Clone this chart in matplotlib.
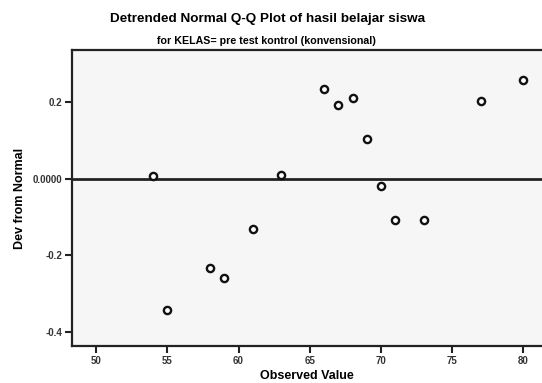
import matplotlib
matplotlib.use("Agg")
import matplotlib.pyplot as plt

observed = [54, 55, 58, 59, 61, 63, 66, 67, 68, 69, 70, 71, 73, 77, 80]
dev_from_normal = [0.007, -0.343, -0.233, -0.260, -0.130, 0.010, 0.235, 0.193,
                   0.211, 0.105, -0.019, -0.107, -0.107, 0.204, 0.259]

x_ticks = [50, 55, 60, 65, 70, 75, 80]
y_ticks = [0.2, 0.0, -0.2, -0.4]
y_tick_labels = ["0.2", "0.0000", "-0.2", "-0.4"]

plt.rcParams['font.family'] = ['Liberation Sans', 'DejaVu Sans']

fig = plt.figure(figsize=(5.42, 3.83), dpi=100)
ax = fig.add_axes([72 / 542, 1 - 346 / 383, 1 - 72 / 542, 296 / 383])
ax.set_facecolor('#f6f6f6')

ax.axhline(0, color='#222222', linewidth=2.0, zorder=2)
ax.plot(observed, dev_from_normal, linestyle='none', marker='o', markersize=5.2,
        markerfacecolor='white', markeredgecolor='#111111', markeredgewidth=1.7, zorder=3)

ax.set_xlim(48.31, 81.3)
ax.set_ylim(-0.4366, 0.337)
ax.set_xticks(x_ticks)
ax.set_xticklabels([str(t) for t in x_ticks])
ax.set_yticks(y_ticks)
ax.set_yticklabels(y_tick_labels)
ax.tick_params(axis='both', direction='out', length=5, width=1.5, color='#222222',
               labelsize=7, pad=2)
for lbl in ax.get_xticklabels() + ax.get_yticklabels():
    lbl.set_fontweight('bold')
    lbl.set_color('#333333')

for side in ['left', 'bottom', 'top']:
    ax.spines[side].set_linewidth(1.6)
    ax.spines[side].set_color('#222222')
ax.spines['right'].set_visible(False)

ax.set_xlabel('Observed Value', fontsize=9, fontweight='bold', labelpad=3)
ax.set_ylabel('Dev from Normal', fontsize=9, fontweight='bold', labelpad=5)

fig.text(268 / 542, 1 - 19 / 383, 'Detrended Normal Q-Q Plot of hasil belajar siswa',
         ha='center', va='center', fontsize=9.7, fontweight='bold')
fig.text(266 / 542, 1 - 41 / 383, 'for KELAS= pre test kontrol (konvensional)',
         ha='center', va='center', fontsize=7.7, fontweight='bold')

fig.savefig('out.png', dpi=100, facecolor='white')
